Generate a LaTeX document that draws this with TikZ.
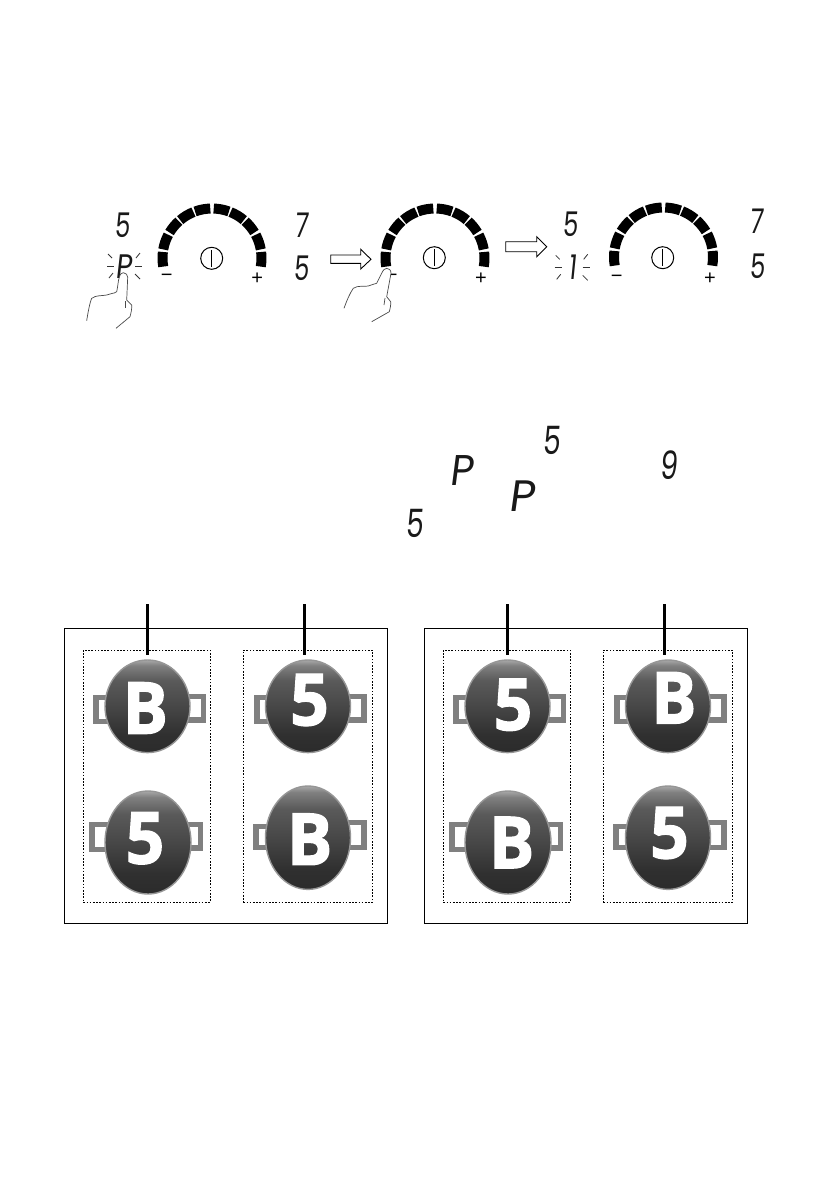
\documentclass[tikz,border=0pt]{standalone}
\usepackage{fontspec}
\usetikzlibrary{shapes.geometric}
\newfontfamily\segfont[FakeSlant=0.10,FakeStretch=0.72]{Poppins}
\newfontfamily\panfont[FakeBold=1.6,FakeStretch=0.94]{Open Sans Bold}
\setmainfont{Liberation Sans}
\definecolor{panB}{HTML}{2B2B2B}
\definecolor{panC}{HTML}{303030}
\definecolor{panD}{HTML}{474747}
\definecolor{panE}{HTML}{5A5A5A}
\definecolor{panF}{HTML}{808080}
\definecolor{panT}{HTML}{A8A8A8}
\definecolor{hnd}{HTML}{808080}
\definecolor{rim}{HTML}{969696}
\definecolor{hand}{HTML}{4A4A4A}
\pgfdeclareverticalshading{panshade}{100bp}{color(0bp)=(panB); color(25bp)=(panB); color(35bp)=(panC); color(50bp)=(panD); color(64bp)=(panE); color(72bp)=(panF); color(75bp)=(panT); color(100bp)=(panT)}
\tikzset{
  dg/.style={font=\segfont\fontsize{#1}{#1}\selectfont,inner sep=0pt,text=black!90},
  sign/.style={font=\fontsize{20}{20}\selectfont,inner sep=0pt},
  pw/.style={circle,draw,line width=1pt,minimum size=22pt,inner sep=0pt},
  pw line/.style={line width=1pt},
  spark/.style={line width=0.8pt,black!80},
  outline box/.style={draw,line width=0.9pt},
  dash box/.style={draw,line width=0.8pt,dash pattern=on 1.6pt off 1.6pt},
  stem/.style={line width=3pt},
  handle/.style={draw=hnd,line width=5.5pt,fill=white},
  pan/.style={ellipse,draw=rim,line width=1.4pt,shading=panshade,inner sep=0pt,minimum width=#1},
  hand line/.style={draw=hand,line width=0.7pt,fill=white},
  block/.style={draw,line width=0.9pt,fill=white},
  letter/.style={font=\panfont\fontsize{#1}{#1}\selectfont,text=white,inner sep=0pt},
}
\newcommand{\dial}[3]{%
  \begin{scope}[shift={(#1,#2)},x=1pt,y=1pt]
    \foreach \a/\b in {190/173,170/152,149/132,130/112,110/92,88/70,68/50,48/31,28/10,7/-10}
      \draw[line width=10pt] (\a:#3) arc (\a:\b:#3);
  \end{scope}}
\newcommand{\sparks}[2]{%
  \begin{scope}[shift={(#1,#2)}]
    \draw[spark] (-17,0) -- (-10,0);
    \draw[spark] (11,0) -- (18,0);
    \draw[spark] (-16,-12) -- (-12,-8);
    \draw[spark] (-15,12) -- (-11,7);
    \draw[spark] (12,-8) -- (16,-13);
    \draw[spark] (11,8) -- (16,13);
  \end{scope}}
\begin{document}
\begin{tikzpicture}[x=1pt,y=-1pt]
\useasboundingbox[fill=white] (0,0) rectangle (839,1191);
% dials
\dial{212}{258}{49.5}
\dial{435}{258}{49.5}
\dial{663.5}{257}{49.5}
\node[pw] (pa) at (211.7,258.3) {};
\node[pw] (pb) at (434.3,257.7) {};
\node[pw] (pc) at (662.7,257.7) {};
\foreach \n in {pa,pb,pc}
  \draw[pw line] ([yshift=-3pt]\n.north) -- ([yshift=3pt]\n.south);
\node[sign] (ma) at (166.7,277.7) {−};
\node[sign] (mb) at (391.7,278) {−};
\node[sign] (mc) at (616.7,279) {−};
\node[sign] (aa) at (257.3,278.3) {+};
\node[sign] (ab) at (481,278.3) {+};
\node[sign] (ac) at (710,279) {+};
% digits of the top row
\node[dg=34] (d1) at (122.5,225) {5};
\node[dg=34] (d2) at (123.5,266.5) {\scalebox{1.15}[1]{P}};
\node[dg=34] (d3) at (301,225) {7};
\node[dg=34] (d4) at (301,268) {5};
\node[dg=34] (d5) at (570,224) {5};
\node[dg=34] (d6) at (572.5,267) {1};
\node[dg=34] (d7) at (756,221.5) {7};
\node[dg=34] (d8) at (757,266) {5};
\sparks{124}{266}
\sparks{571.7}{267.3}
% block arrows
\draw[block] (330.7,255) -- (360.7,255) -- (360.7,249.3) -- (371,259.3) -- (360.7,269) -- (360.7,263.3) -- (330.7,263.3) -- cycle;
\draw[block] (505.7,241.7) -- (536.7,241.7) -- (536.7,236.7) -- (546.7,246.7) -- (536.7,256.7) -- (536.7,251.7) -- (505.7,251.7) -- cycle;
% hands
\draw[hand line] (86.7,320.7) .. controls (88,312) and (90,302) .. (91.7,298.3) .. controls (96,295) and (102,296) .. (106.7,295) .. controls (110,293) and (114,294) .. (116.7,291.7) .. controls (118,286) and (118,281) .. (119.3,277.3) .. controls (120,274) and (122,272.7) .. (123.3,272.7) .. controls (126,272.7) and (127.7,275) .. (127.7,277.3) -- (126.7,300) -- (131.7,305) .. controls (132,309) and (131,313) .. (130,316.7) -- (116,328.3);
\draw[hand line] (125,301) -- (125,308);
\draw[hand line] (344,308.3) .. controls (347,300) and (350,293) .. (353.3,288.3) .. controls (358,285) and (364,287) .. (368.3,286) .. controls (371,284) and (374,285) .. (376.7,283.3) -- (381.7,273.3) .. controls (383,270) and (385,268.3) .. (386.7,268.3) .. controls (389,268.3) and (391,270) .. (391,273.3) -- (386.7,296.7) -- (390.7,301.7) .. controls (391,305) and (390,309) .. (389.3,311.7) -- (371.7,321.7);
\draw[hand line] (385,298) -- (384,305);
% middle digits
\node[dg=39] (m1) at (551,440) {5};
\node[dg=43] (m2) at (461.5,470.5) {\scalebox{1.3}[1]{P}};
\node[dg=44] (m3) at (521,496) {\scalebox{1.4}[1]{P}};
\node[dg=39] (m4) at (414.5,523) {5};
\node[dg=39] (m5) at (668.5,465) {9};
% frames
\node[outline box,minimum width=323pt,minimum height=295pt,inner sep=0pt] (fa) at (225.8,775.8) {};
\node[outline box,minimum width=323pt,minimum height=295pt,inner sep=0pt] (fb) at (585.8,775.8) {};
\node[dash box,minimum width=126.7pt,minimum height=252.3pt,inner sep=0pt] (za) at (146.65,776.15) {};
\node[dash box,minimum width=129pt,minimum height=252.3pt,inner sep=0pt] (zb) at (307.8,776.15) {};
\node[dash box,minimum width=126.7pt,minimum height=252.3pt,inner sep=0pt] (zc) at (506.65,776.15) {};
\node[dash box,minimum width=129pt,minimum height=252.3pt,inner sep=0pt] (zd) at (667.8,776.15) {};
% pans
\foreach \x/\na/\nb/\nc/\nd in {0/pan1/pan2/pan3/pan4, 360/pan5/pan6/pan7/pan8}{
  \begin{scope}[shift={(\x,0)}]
    \draw[handle] (96,697.7) rectangle (147,721.3);
    \draw[handle] (203.3,696.7) rectangle (147,720);
    \draw[handle] (92,824.4) rectangle (148,849.6);
    \draw[handle] (200.6,824.4) rectangle (148,848);
    \draw[handle] (257,697.7) rectangle (308,721.3);
    \draw[handle] (364,696.7) rectangle (308,720);
    \draw[handle] (256,826.7) rectangle (308,847.3);
    \draw[handle] (364,822.7) rectangle (308,847.3);
    \node[pan=85pt,minimum height=92.6pt] (\na) at (147.5,706.3) {};
    \node[pan=86pt,minimum height=103pt] (\nb) at (148,842.5) {};
    \node[pan=85pt,minimum height=92.6pt] (\nc) at (308,706.3) {};
    \node[pan=85pt,minimum height=103.4pt] (\nd) at (308,837.7) {};
  \end{scope}}
\node[letter=72] (la) at (145.3,708) {B};
\node[letter=72] (lb) at (309.5,700) {5};
\node[letter=72] (lc) at (145,838.3) {5};
\node[letter=72] (ld) at (309.7,839.2) {B};
\node[letter=72] (le) at (513,704.8) {5};
\node[letter=72] (lf) at (673.8,697.8) {B};
\node[letter=72] (lg) at (511.7,842.5) {B};
\node[letter=72] (lh) at (669.5,833) {5};
% stems
\coordinate (ta) at (147.7,604);
\coordinate (tb) at (304,604);
\coordinate (tc) at (507.7,604);
\coordinate (td) at (664,604);
\draw[stem] (ta) -- ([yshift=4.3pt]ta |- pan1.north);
\draw[stem] (tb) -- ([yshift=4.3pt]tb |- pan3.north);
\draw[stem] (tc) -- ([yshift=4.3pt]tc |- pan5.north);
\draw[stem] (td) -- ([yshift=4.3pt]td |- pan7.north);
\end{tikzpicture}
\end{document}
